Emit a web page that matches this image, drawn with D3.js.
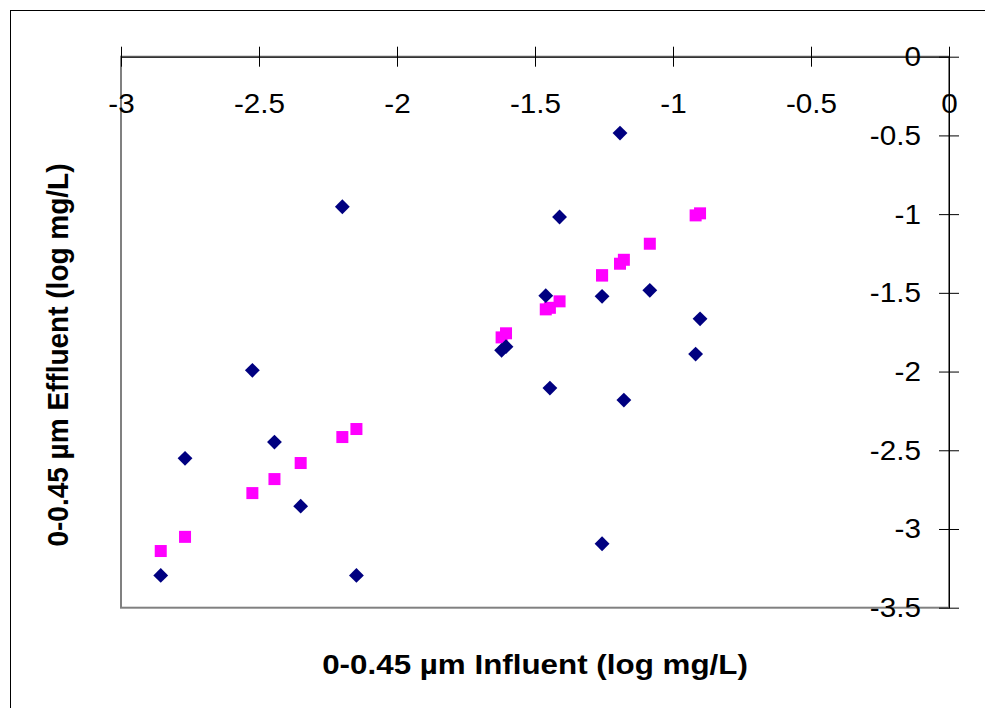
<!DOCTYPE html>
<html>
<head>
<meta charset="utf-8">
<script src="https://cdn.jsdelivr.net/npm/d3@7"></script>
<style>
  html, body { margin: 0; padding: 0; background: #fff; }
  svg { display: block; font-family: "Liberation Sans", Arial, sans-serif; }
</style>
</head>
<body>
<svg id="chart" width="985" height="708"></svg>
<script>
// Influent (x) and effluent (y) concentrations, log mg/L
const measuredX = [-2.856, -2.768, -2.524, -2.444, -2.349, -2.198, -2.147, -1.621, -1.605, -1.461,
                   -1.446, -1.411, -1.257, -1.257, -1.192, -1.178, -1.084, -0.918, -0.902];
const measuredY = [-3.295, -2.551, -1.992, -2.448, -2.855, -0.953, -3.295, -1.865, -1.842, -1.518,
                   -2.105, -1.018, -1.522, -3.094, -0.485, -2.181, -1.484, -1.889, -1.665];
const predictedY = [-3.140, -3.050, -2.772, -2.683, -2.581, -2.416, -2.365, -1.783, -1.757, -1.605,
                    -1.595, -1.554, -1.389, -1.389, -1.315, -1.290, -1.188, -1.008, -0.995];

const xTicks = [-3, -2.5, -2, -1.5, -1, -0.5, 0];
const yTicks = [0, -0.5, -1, -1.5, -2, -2.5, -3, -3.5];

const xTitle = "0-0.45 µm Influent (log mg/L)";
const yTitle = "0-0.45 µm Effluent (log mg/L)";

const svg = d3.select("#chart");
const plotL = 121, plotR = 949, plotT = 56.7, plotB = 607.7;
const stretch = 1.06;   // slightly wide lettering

const x = d3.scaleLinear().domain([-3, 0]).range([plotL, plotR]);
const y = d3.scaleLinear().domain([0, -3.5]).range([plotT, plotB]);

// outer chart border
svg.append("rect")
  .attr("x", 10.5).attr("y", 10.5).attr("width", 1000).attr("height", 720)
  .attr("fill", "none").attr("stroke", "#000").attr("stroke-width", 1);

// plot area frame
svg.append("rect")
  .attr("x", plotL).attr("y", plotT).attr("width", plotR - plotL).attr("height", plotB - plotT)
  .attr("fill", "none").attr("stroke", "#808080").attr("stroke-width", 2);

const fmt = d => d3.format("")(d).replace("−", "-");

// x axis along the top, labels below the line
const gx = svg.append("g").attr("transform", `translate(0,${plotT})`)
  .call(d3.axisBottom(x).tickValues(xTicks).tickSizeInner(10).tickSizeOuter(0).tickPadding(26).tickFormat(fmt));
gx.selectAll(".tick line").attr("y1", -10).attr("y2", 10);

// y axis along the right, labels to the left
const gy = svg.append("g").attr("transform", `translate(${plotR},0)`)
  .call(d3.axisLeft(y).tickValues(yTicks).tickSizeInner(10).tickSizeOuter(0).tickPadding(18).tickFormat(fmt));
gy.selectAll(".tick line").attr("x1", -10).attr("x2", 10);
gy.selectAll(".tick text").attr("x", -28 / stretch);

svg.selectAll(".domain, .tick line").attr("stroke", "#000").attr("stroke-width", 1);
svg.selectAll(".tick text").attr("fill", "#000").style("font-size", "28px")
  .style("font-family", "'Liberation Sans', Arial, sans-serif")
  .attr("transform", `scale(${stretch},1)`);

// predicted values (squares)
svg.append("g").selectAll("rect")
  .data(measuredX.map((v, i) => [v, predictedY[i]]))
  .join("rect")
  .attr("x", d => x(d[0]) - 6).attr("y", d => y(d[1]) - 6)
  .attr("width", 12).attr("height", 12)
  .attr("fill", "#FF00FF");

// measured values (diamonds)
const diamond = d3.symbol().type(d3.symbolSquare).size(110);
svg.append("g").selectAll("path")
  .data(measuredX.map((v, i) => [v, measuredY[i]]))
  .join("path")
  .attr("d", diamond)
  .attr("transform", d => `translate(${x(d[0])},${y(d[1])}) rotate(45)`)
  .attr("fill", "#000080");

// axis titles
svg.append("text")
  .attr("transform", "translate(535,674) scale(1.12,1)")
  .attr("text-anchor", "middle")
  .style("font-size", "28px").style("font-weight", "bold")
  .text(xTitle);

svg.append("text")
  .attr("transform", "translate(68,355) scale(1.08,1) rotate(-90)")
  .attr("text-anchor", "middle")
  .style("font-size", "28px").style("font-weight", "bold")
  .text(yTitle);
</script>
</body>
</html>
